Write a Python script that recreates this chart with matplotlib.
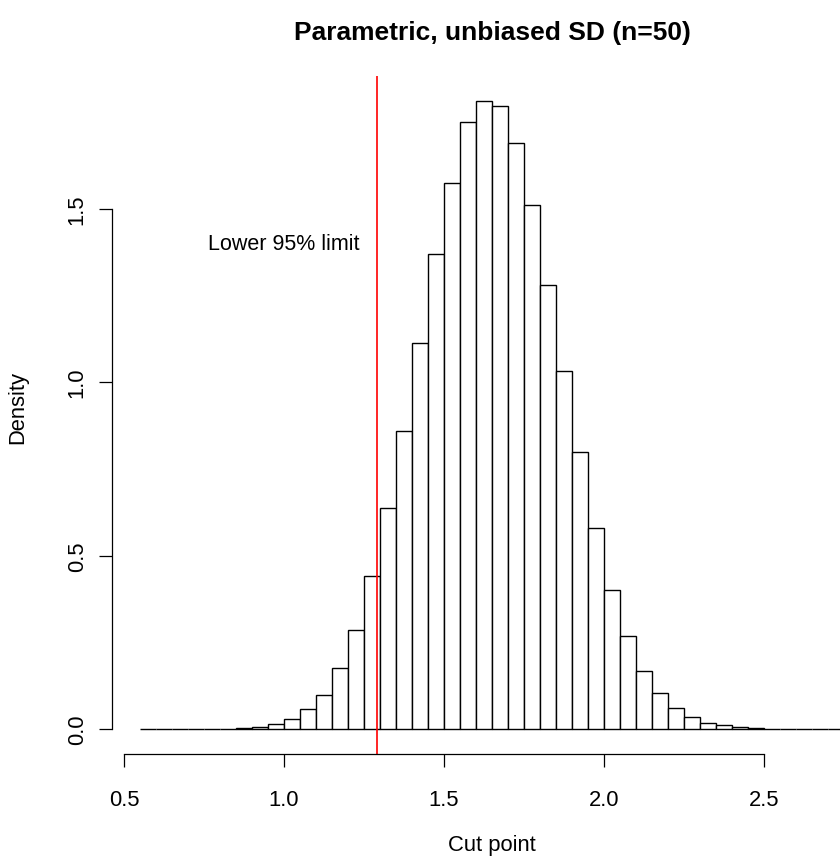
import matplotlib
matplotlib.use("Agg")
import matplotlib.pyplot as plt
import numpy as np

plt.rcParams['font.family'] = ['Liberation Sans', 'DejaVu Sans']

# Histogram data (density), bins of width 0.05 from 0.55 to 2.75
bin_start = 0.55
bin_width = 0.05
density = [
    0.0002, 0.0002, 0.0002, 0.0003, 0.0004, 0.0006, 0.0012,   # 0.55 - 0.90
    0.005, 0.014, 0.029, 0.056, 0.099, 0.176, 0.286, 0.440,   # 0.90 - 1.30
    0.637, 0.860, 1.112, 1.371, 1.574, 1.749, 1.812, 1.796,   # 1.30 - 1.70
    1.690, 1.511, 1.281, 1.033, 0.800, 0.578, 0.401, 0.269,   # 1.70 - 2.10
    0.168, 0.104, 0.061, 0.034, 0.017, 0.010, 0.006,          # 2.10 - 2.45
    0.0012, 0.0006, 0.0004, 0.0003, 0.0002, 0.0002,           # 2.45 - 2.75
]
lower_limit = 1.29
x_ticks = [0.5, 1.0, 1.5, 2.0, 2.5]
x_tick_labels = ["0.5", "1.0", "1.5", "2.0", "2.5"]
y_ticks = [0.0, 0.5, 1.0, 1.5]
y_tick_labels = ["0.0", "0.5", "1.0", "1.5"]
title = "Parametric, unbiased SD (n=50)"
xlabel = "Cut point"
ylabel = "Density"
annot = "Lower 95% limit"

edges = bin_start + bin_width * np.arange(len(density) + 1)

W, H = 840, 862
fig = plt.figure(figsize=(W / 100, H / 100), dpi=100)
left_px, right_px, top_px, bot_px = 112, 872, 76.5, 755
ax = fig.add_axes([left_px / W, 1 - bot_px / H,
                   (right_px - left_px) / W, (bot_px - top_px) / H])

ax.bar(edges[:-1], density, width=bin_width, align='edge',
       facecolor='white', edgecolor='black', linewidth=1.0)

xr = edges[-1] - edges[0]
ax.set_xlim(edges[0] - 0.04 * xr, edges[-1] + 0.04 * xr)
ymax = max(density)
ax.set_ylim(-0.04 * ymax, 1.04 * ymax)

ax.axvline(lower_limit, color='#ff0000', linewidth=1.2)
ax.text(1.0, 1.4, annot, ha='center', va='center', fontsize=15.5)

for s in ['top', 'right']:
    ax.spines[s].set_visible(False)
ax.spines['left'].set_bounds(y_ticks[0], y_ticks[-1])
ax.spines['bottom'].set_bounds(x_ticks[0], x_ticks[-1])
for s in ['left', 'bottom']:
    ax.spines[s].set_linewidth(0.9)

ax.set_xticks(x_ticks)
ax.set_xticklabels(x_tick_labels)
ax.set_yticks(y_ticks)
ax.set_yticklabels(y_tick_labels, rotation=90, va='center')
ax.tick_params(axis='both', length=9.5, width=0.9, labelsize=15.8)
ax.tick_params(axis='x', pad=16)
ax.tick_params(axis='y', pad=8)

fig.text(492 / W, 1 - 33 / H, title, ha='center', va='center',
         fontsize=19, fontweight='bold')
fig.text(492 / W, 1 - 846 / H, xlabel, ha='center', va='center', fontsize=15.8)
fig.text(18 / W, 1 - 408 / H, ylabel, ha='center', va='center',
         fontsize=15.8, rotation=90)

fig.savefig("out.png", dpi=100)
